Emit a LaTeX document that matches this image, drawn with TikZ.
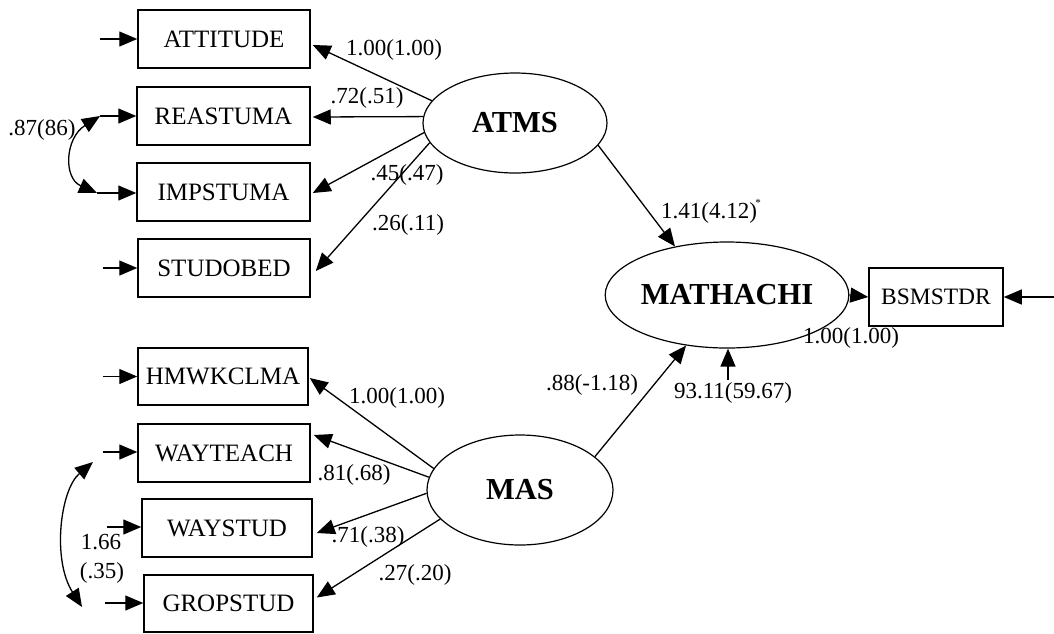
\documentclass[tikz,border=0pt]{standalone}
\usepackage{fontspec}
\setmainfont{Liberation Serif}
\usetikzlibrary{arrows.meta,shapes.geometric,calc}
\begin{document}
\begin{tikzpicture}[x=1pt,y=-1pt,
 obs/.style={draw,line width=1.5pt,rectangle,minimum width=172pt,minimum height=58pt,inner sep=0pt,font=\fontsize{25}{27}\selectfont},
 lat/.style={draw,line width=1.2pt,ellipse,inner sep=0pt,font=\fontsize{30.5}{32}\selectfont\bfseries},
 lab/.style={inner sep=0pt,font=\fontsize{23}{25}\selectfont},
 arr/.style={line width=1.3pt,-{Triangle[length=18pt,width=15pt]}},
 darr/.style={line width=1.3pt,{Triangle[length=18pt,width=15pt]}-{Triangle[length=18pt,width=15pt]}}]
\useasboundingbox (0,0) rectangle (1054,633);
% observed indicators
\node[obs] (ATT) at (224,39) {ATTITUDE};
\node[obs,minimum width=173pt] (REA) at (223.5,116) {REASTUMA};
\node[obs,minimum width=173pt] (IMP) at (223.5,192) {IMPSTUMA};
\node[obs] (STU) at (224,268) {STUDOBED};
\node[obs,minimum width=170pt,minimum height=57pt] (HMW) at (223,376.5) {HMWKCLMA};
\node[obs] (WTE) at (224,453) {WAYTEACH};
\node[obs,minimum width=170pt] (WST) at (227,528) {WAYSTUD};
\node[obs,minimum width=169pt,minimum height=57pt] (GRO) at (228.5,603.5) {GROPSTUD};
\node[obs,minimum width=134pt,font=\fontsize{23.5}{25}\selectfont] (BSM) at (936,297) {BSMSTDR};
% latent variables
\node[lat,minimum width=184pt,minimum height=100pt] (ATMS) at (515,123) {ATMS};
\node[lat,minimum width=190pt,minimum height=106pt] (MATH) at (727,295) {MATHACHI};
\node[lat,minimum width=186pt,minimum height=110pt] (MAS) at (520,490) {MAS};
% error terms
\coordinate (eATT) at (100,39);
\coordinate (eREA) at (100,116);
\coordinate (eIMP) at (97,193);
\coordinate (eSTU) at (103,268);
\coordinate (eHMW) at (103,376.5);
\coordinate (eWTE) at (103,452);
\coordinate (eWST) at (107,527);
\coordinate (eGRO) at (105,603);
\coordinate (eBSM) at (1054,297);
\coordinate (eMATH) at (728,380);
\coordinate (cWTE) at (93,462);
\coordinate (cGRO) at (82,607);
\draw[arr] (eATT) -- (ATT.west);
\draw[arr] (eREA) -- (REA.west);
\draw[arr] (eIMP) -- (eIMP -| IMP.west);
\draw[arr] (eSTU) -- (STU.west);
\draw[arr] (eHMW) -- (HMW.west);
\draw[arr] (eWTE) -- (eWTE -| WTE.west);
\draw[arr] (eWST) -- (eWST -| WST.west);
\draw[arr] (eGRO) -- (eGRO -| GRO.west);
\draw[arr] (eBSM) -- (BSM.east);
\draw[arr] (eMATH) -- (eMATH |- MATH.south);
% covariances
\draw[darr] (eREA) .. controls (65,138) and (63,178) .. (eIMP);
\draw[darr] (cWTE) .. controls (60,490) and (52,560) .. (cGRO);
% loadings
\draw[arr] (ATMS.165) -- ([yshift=-6pt,xshift=2pt]ATT.east);
\draw[arr] (ATMS.176) -- ([yshift=-1pt,xshift=2pt]REA.east);
\draw[arr] (ATMS.186) -- ([yshift=-1pt,xshift=2pt]IMP.east);
\draw[arr] (ATMS.193) -- ([yshift=-3pt,xshift=5pt]STU.east);
\draw[arr] (MAS.166) -- ([yshift=-1.5pt,xshift=1pt]HMW.east);
\draw[arr] (MAS.172) -- ([yshift=18pt,xshift=3pt]WTE.east);
\draw[arr] (MAS.182) -- ([yshift=-5pt,xshift=4pt]WST.east);
\draw[arr] (MAS.200) -- ([yshift=6pt,xshift=3pt]GRO.east);
% structural paths
\draw[arr] (ATMS.-15) -- (MATH.137);
\draw[arr] (MAS.24) -- (MATH.231);
\draw[arr] (MATH.east) -- (BSM.west);
% labels
\node[lab] (l1) at (42,130) {.87(86)};
\node[lab] (l2) at (394,50) {1.00(1.00)};
\node[lab] (l3) at (367,98) {.72(.51)};
\node[lab] (l4) at (407,175) {.45(.47)};
\node[lab] (l5) at (408,225) {.26(.11)};
\node[lab] (l6) at (709,213) {1.41(4.12)};
\node[inner sep=0pt,font=\fontsize{11}{11}\selectfont] (l6s) at (758,203) {*};
\node[lab] (l7) at (851,338) {1.00(1.00)};
\node[lab] (l8) at (733,393) {93.11(59.67)};
\node[lab] (l9) at (592,385) {.88(-1.18)};
\node[lab] (l10) at (397,398) {1.00(1.00)};
\node[lab] (l11) at (354,475) {.81(.68)};
\node[lab] (l12) at (368,537) {.71(.38)};
\node[lab] (l13) at (415,575) {.27(.20)};
\node[lab] (l14) at (101,542) {1.66};
\node[lab] (l15) at (102,573) {(.35)};
\end{tikzpicture}
\end{document}
